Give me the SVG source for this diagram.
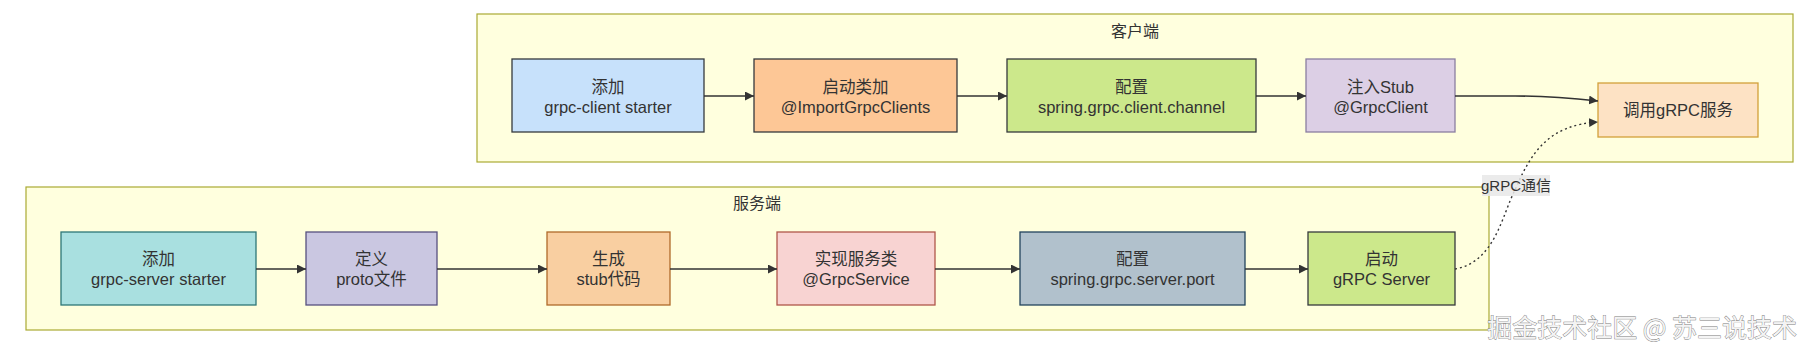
<svg xmlns="http://www.w3.org/2000/svg" width="1811" height="353" viewBox="0 0 1811 353">
<style>
text{font-family:"Liberation Sans","Noto Sans CJK SC",sans-serif;fill:#333;font-size:16.5px;text-anchor:middle;dominant-baseline:central}
.cluster{fill:#ffffde;stroke:#aaaa33;stroke-width:1.2}
.ct{font-size:16px}
.n{stroke-width:1.3}
.e{fill:none;stroke:#333;stroke-width:1.6}
.d{fill:none;stroke:#333;stroke-width:1.4;stroke-dasharray:2 3}
.lbl{fill:#e8e8e8;opacity:0.85}
.wm{font-family:"Noto Sans CJK SC",sans-serif;font-size:25px;fill:#f4f4f4;stroke:#7a7a7a;stroke-width:0.8;paint-order:stroke;text-anchor:end}
</style>
<defs>
<marker id="ah" viewBox="0 0 10 10" refX="10" refY="5" markerWidth="9" markerHeight="9" markerUnits="userSpaceOnUse" orient="auto">
<path d="M0,0 L10,5 L0,10 z" fill="#333"/>
</marker>
</defs>
<g id="client">
<rect class="cluster" x="477" y="14" width="1316" height="148"/>
<text class="ct" x="1135" y="31">客户端</text>
</g>
<g id="server">
<rect class="cluster" x="26" y="187" width="1463" height="143"/>
<text class="ct" x="757" y="203">服务端</text>
</g>
<g id="c1"><rect class="n" x="512" y="59" width="192" height="73" fill="#c7e1fb" stroke="#36393d"/><text x="608" y="87">添加</text><text x="608" y="107">grpc-client starter</text></g>
<g id="c2"><rect class="n" x="754" y="59" width="203" height="73" fill="#fdc796" stroke="#36393d"/><text x="855.5" y="87">启动类加</text><text x="855.5" y="107">@ImportGrpcClients</text></g>
<g id="c3"><rect class="n" x="1007" y="59" width="249" height="73" fill="#cce88b" stroke="#36393d"/><text x="1131.5" y="87">配置</text><text x="1131.5" y="107">spring.grpc.client.channel</text></g>
<g id="c4"><rect class="n" x="1306" y="59" width="149" height="73" fill="#dccfe5" stroke="#8a7fa0"/><text x="1380.5" y="87">注入Stub</text><text x="1380.5" y="107">@GrpcClient</text></g>
<g id="c5"><rect class="n" x="1598" y="83" width="160" height="54" fill="#fde2c4" stroke="#d3a03a"/><text x="1678" y="110">调用gRPC服务</text></g>
<g id="s1"><rect class="n" x="61" y="232" width="195" height="73" fill="#a9e0e0" stroke="#2d7777"/><text x="158.5" y="259">添加</text><text x="158.5" y="279">grpc-server starter</text></g>
<g id="s2"><rect class="n" x="306" y="232" width="131" height="73" fill="#cac7e1" stroke="#56517e"/><text x="371.5" y="259">定义</text><text x="371.5" y="279">proto文件</text></g>
<g id="s3"><rect class="n" x="547" y="232" width="123" height="73" fill="#f9cfa1" stroke="#b06a2a"/><text x="608.5" y="259">生成</text><text x="608.5" y="279">stub代码</text></g>
<g id="s4"><rect class="n" x="777" y="232" width="158" height="73" fill="#f8d3d2" stroke="#b0574b"/><text x="856" y="259">实现服务类</text><text x="856" y="279">@GrpcService</text></g>
<g id="s5"><rect class="n" x="1020" y="232" width="225" height="73" fill="#b1c1cc" stroke="#23445d"/><text x="1132.5" y="259">配置</text><text x="1132.5" y="279">spring.grpc.server.port</text></g>
<g id="s6"><rect class="n" x="1308" y="232" width="147" height="73" fill="#cce88b" stroke="#36393d"/><text x="1381.5" y="259">启动</text><text x="1381.5" y="279">gRPC Server</text></g>
<g id="edges">
<path class="e" d="M704,96 L754,96" marker-end="url(#ah)"/>
<path class="e" d="M957,96 L1007,96" marker-end="url(#ah)"/>
<path class="e" d="M1256,96 L1306,96" marker-end="url(#ah)"/>
<path class="e" d="M1455,96 L1515,96 C1550,96 1570,98 1598,101" marker-end="url(#ah)"/>
<path class="e" d="M256,269 L306,269" marker-end="url(#ah)"/>
<path class="e" d="M437,269 L547,269" marker-end="url(#ah)"/>
<path class="e" d="M670,269 L777,269" marker-end="url(#ah)"/>
<path class="e" d="M935,269 L1020,269" marker-end="url(#ah)"/>
<path class="e" d="M1245,269 L1308,269" marker-end="url(#ah)"/>
<path class="d" d="M1455,269 C1495,262 1502,215 1515,190 C1532,150 1550,125 1598,122" marker-end="url(#ah)"/>
<rect class="lbl" x="1482" y="175" width="68" height="21"/>
<text x="1516" y="185.5" style="font-size:15px">gRPC通信</text>
</g>
<text class="wm" x="1797" y="326">掘金技术社区 @ 苏三说技术</text>
</svg>
